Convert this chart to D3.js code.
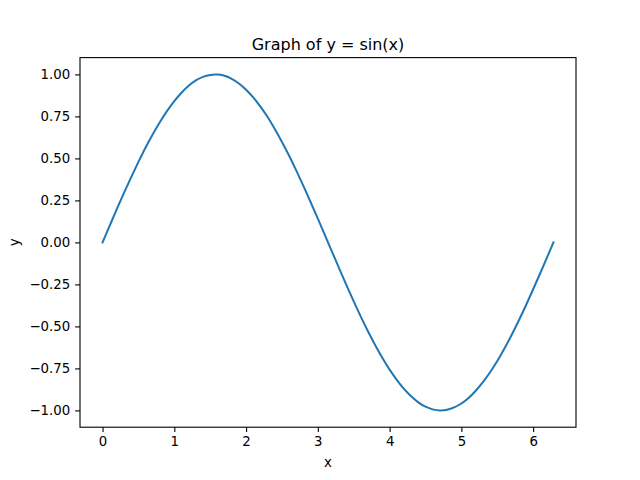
<!DOCTYPE html>
<html lang="en">
<head>
	<meta charset="UTF-8">
	<title>Graph of y = sin(x)</title>
	<style>
		body { margin: 0; background: #fff; }
		svg text { font-family: "DejaVu Sans", sans-serif; fill: #000; }
	</style>
</head>
<body>
	<svg id="chart" width="640" height="480"></svg>
	<script src="https://cdn.jsdelivr.net/npm/d3@7"></script>
	<script>
		// points
		var xs = [0.0, 0.1, 0.2, 0.3, 0.4, 0.5, 0.6, 0.7, 0.8, 0.9,
			1.0, 1.1, 1.2, 1.3, 1.4, 1.5, 1.571, 1.6, 1.7, 1.8, 1.9,
			2.0, 2.1, 2.2, 2.3, 2.4, 2.5, 2.6, 2.7, 2.8, 2.9,
			3.0, 3.1, 3.2, 3.3, 3.4, 3.5, 3.6, 3.7, 3.8, 3.9,
			4.0, 4.1, 4.2, 4.3, 4.4, 4.5, 4.6, 4.7, 4.712, 4.8, 4.9,
			5.0, 5.1, 5.2, 5.3, 5.4, 5.5, 5.6, 5.7, 5.8, 5.9,
			6.0, 6.1, 6.2, 6.283];
		var ys = [0.000, 0.100, 0.199, 0.296, 0.389, 0.479, 0.565, 0.644, 0.717, 0.783,
			0.841, 0.891, 0.932, 0.964, 0.985, 0.997, 1.000, 1.000, 0.992, 0.974, 0.946,
			0.909, 0.863, 0.808, 0.746, 0.675, 0.598, 0.516, 0.427, 0.335, 0.239,
			0.141, 0.042, -0.058, -0.158, -0.256, -0.351, -0.443, -0.530, -0.612, -0.688,
			-0.757, -0.818, -0.872, -0.916, -0.952, -0.978, -0.994, -1.000, -1.000, -0.996, -0.982,
			-0.959, -0.926, -0.883, -0.832, -0.773, -0.706, -0.631, -0.551, -0.465, -0.374,
			-0.279, -0.182, -0.083, 0.000];
		var xTicks = [0, 1, 2, 3, 4, 5, 6];
		var yTicks = [-1.00, -0.75, -0.50, -0.25, 0.00, 0.25, 0.50, 0.75, 1.00];

		var mLeft = 80, mRight = 576, mTop = 57.6, mBottom = 427.2;
		var svg = d3.select("#chart");

		// 5% margins like matplotlib
		var xMin = d3.min(xs), xMax = d3.max(xs), xPad = (xMax - xMin) * 0.05;
		var yMin = d3.min(ys), yMax = d3.max(ys), yPad = (yMax - yMin) * 0.05;
		var x = d3.scaleLinear().domain([xMin - xPad, xMax + xPad]).range([mLeft, mRight]);
		var y = d3.scaleLinear().domain([yMin - yPad, yMax + yPad]).range([mBottom, mTop]);

		var xAxis = svg.append("g")
			.attr("transform", "translate(0," + mBottom + ")")
			.call(d3.axisBottom(x).tickValues(xTicks).tickFormat(d3.format("d")).tickSize(4.9).tickPadding(4.9));
		var yAxis = svg.append("g")
			.attr("transform", "translate(" + mLeft + ",0)")
			.call(d3.axisLeft(y).tickValues(yTicks).tickFormat(d3.format(".2f")).tickSize(4.9).tickPadding(4.9));
		[xAxis, yAxis].forEach(function(a) {
			a.select(".domain").remove();
			a.selectAll("line").attr("stroke", "#000").attr("stroke-width", 1.1);
			a.selectAll("text").style("font-size", "13.3px").style("font-family", "DejaVu Sans");
		});
		yAxis.selectAll("text").text(function(d) { return d3.format(".2f")(d).replace("-", "\u2212"); });

		var line = d3.line()
			.curve(d3.curveMonotoneX)
			.x(function(d) { return x(d[0]); })
			.y(function(d) { return y(d[1]); });
		svg.append("path")
			.datum(d3.zip(xs, ys))
			.attr("d", line)
			.attr("fill", "none")
			.attr("stroke", "#1f77b4")
			.attr("stroke-width", 2)
			.attr("stroke-linejoin", "round")
			.attr("stroke-linecap", "square");

		// axes frame
		svg.append("rect")
			.attr("x", mLeft).attr("y", mTop)
			.attr("width", mRight - mLeft).attr("height", mBottom - mTop)
			.attr("fill", "none").attr("stroke", "#000").attr("stroke-width", 1.1);

		svg.append("text")
			.attr("x", (mLeft + mRight) / 2).attr("y", mTop - 8)
			.attr("text-anchor", "middle")
			.style("font-size", "16px")
			.text("Graph of y = sin(x)");
		svg.append("text")
			.attr("x", (mLeft + mRight) / 2).attr("y", 467)
			.attr("text-anchor", "middle")
			.style("font-size", "13.3px")
			.text("x");
		svg.append("text")
			.attr("transform", "translate(19," + (mTop + mBottom) / 2 + ") rotate(-90)")
			.attr("text-anchor", "middle")
			.style("font-size", "13.3px")
			.text("y");
	</script>
</body>
</html>
